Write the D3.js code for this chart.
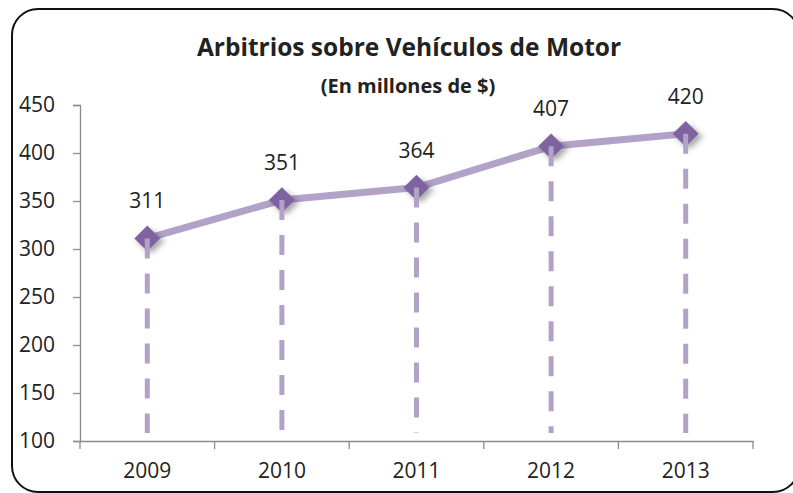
<!DOCTYPE html>
<html>
<head>
<meta charset="utf-8">
<script src="https://cdn.jsdelivr.net/npm/d3@7"></script>
<style>
  body { margin: 0; background: #fff; }
  svg text { font-family: "Open Sans", "Noto Sans", sans-serif; fill: #222; }
</style>
</head>
<body>
<svg id="chart" width="793" height="493"></svg>
<script>
// data
var years = ["2009", "2010", "2011", "2012", "2013"];
var values = [311, 351, 364, 407, 420];
var yTicks = [100, 150, 200, 250, 300, 350, 400, 450];

var svg = d3.select("#chart");
var plotL = 80, plotR = 753, plotT = 105, plotB = 441;

// frame
svg.append("rect")
  .attr("x", 12).attr("y", 9)
  .attr("width", 787).attr("height", 483)
  .attr("rx", 26).attr("ry", 26)
  .attr("fill", "#fff").attr("stroke", "#111").attr("stroke-width", 2);

var defs = svg.append("defs");
var f = defs.append("filter").attr("id", "shadow")
  .attr("x", "-50%").attr("y", "-50%").attr("width", "200%").attr("height", "200%");
f.append("feDropShadow").attr("dx", 2).attr("dy", 3).attr("stdDeviation", 2)
  .attr("flood-color", "#000").attr("flood-opacity", 0.35);

var x = d3.scaleBand().domain(years).range([plotL, plotR]);
var y = d3.scaleLinear().domain([100, 450]).range([plotB, plotT]);

// y axis
var yAxis = svg.append("g")
  .attr("transform", "translate(" + plotL + ",0)")
  .call(d3.axisLeft(y).tickValues(yTicks).tickSize(7).tickPadding(18));
yAxis.selectAll("text").style("font-size", "21px").attr("fill", "#222");

// x axis
var xAxis = svg.append("g")
  .attr("transform", "translate(0," + plotB + ")")
  .call(d3.axisBottom(x).tickSize(0).tickPadding(22));
xAxis.selectAll("text").style("font-size", "21px").attr("fill", "#222");
// tick marks between categories
xAxis.selectAll(".sep")
  .data(d3.range(years.length + 1))
  .enter().append("line")
  .attr("x1", function(i) { return plotL + i * x.step(); })
  .attr("x2", function(i) { return plotL + i * x.step(); })
  .attr("y1", 0).attr("y2", 8)
  .attr("stroke", "#8c8c8c").attr("stroke-width", 1.3);
svg.selectAll(".domain").attr("stroke", "#8c8c8c").attr("stroke-width", 1.3);
yAxis.selectAll(".tick line").attr("stroke", "#8c8c8c").attr("stroke-width", 1.3);

var cx = function(d, i) { return x(years[i]) + x.bandwidth() / 2; };

// line
var line = d3.line()
  .x(function(d, i) { return cx(d, i); })
  .y(function(d) { return y(d); });
svg.append("path")
  .datum(values)
  .attr("d", line)
  .attr("fill", "none")
  .attr("stroke", "#b3a2c7")
  .attr("stroke-width", 7)
  .attr("stroke-linejoin", "round");

// markers
svg.selectAll(".mk")
  .data(values)
  .enter().append("path")
  .attr("class", "mk")
  .attr("d", d3.symbol().type(d3.symbolDiamond).size(190))
  .attr("transform", function(d, i) { return "translate(" + cx(d, i) + "," + y(d) + ") scale(1.75,1)"; })
  .attr("fill", "#7f63a1")
  .attr("filter", "url(#shadow)");

// drop lines
svg.selectAll(".drop")
  .data(values)
  .enter().append("line")
  .attr("x1", cx).attr("x2", cx)
  .attr("y1", function(d) { return y(d); })
  .attr("y2", plotB - 8)
  .attr("stroke", "#b3a2c7")
  .attr("stroke-width", 5)
  .attr("stroke-dasharray", "20,15");

// value labels
svg.selectAll(".lbl")
  .data(values)
  .enter().append("text")
  .attr("x", cx)
  .attr("y", function(d) { return y(d) - 30; })
  .attr("text-anchor", "middle")
  .style("font-size", "21px")
  .text(function(d) { return d; });

// titles
svg.append("text")
  .attr("x", 409).attr("y", 56)
  .attr("text-anchor", "middle")
  .style("font-size", "24.5px").style("font-weight", "bold")
  .text("Arbitrios sobre Vehículos de Motor");
svg.append("text")
  .attr("x", 408).attr("y", 93)
  .attr("text-anchor", "middle")
  .style("font-size", "20px").style("font-weight", "bold")
  .text("(En millones de $)");
</script>
</body>
</html>
